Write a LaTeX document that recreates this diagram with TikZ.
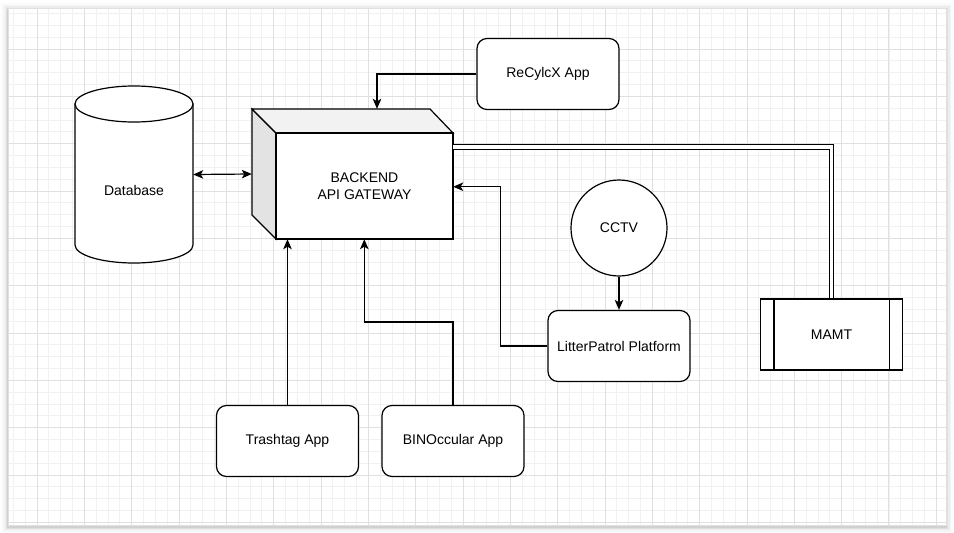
\documentclass[tikz,border=0pt]{standalone}
\usepackage{fontspec}
\setmainfont{Liberation Sans}
\usetikzlibrary{arrows.meta,calc}
\definecolor{minorg}{HTML}{F1F1F1}
\definecolor{majorg}{HTML}{E0E0E0}
\definecolor{topface}{HTML}{F2F2F2}
\definecolor{sideface}{HTML}{E3E3E3}
\begin{document}
\begin{tikzpicture}[x=1pt,y=-1pt,
  lbl/.style={font=\fontsize{14}{17}\selectfont, align=center},
  box/.style={lbl, draw, line width=1.2pt, fill=white, rounded corners=10pt,
    minimum width=142pt, minimum height=71pt, inner sep=0pt},
  procbox/.style={lbl, draw, line width=1.2pt, fill=white,
    minimum width=142pt, minimum height=71pt, inner sep=0pt},
  conn/.style={line width=1.2pt},
  arr/.style={conn, -{Stealth[length=10pt,width=8.5pt,inset=2.5pt]}},
  arrboth/.style={conn, {Stealth[length=10pt,width=8.5pt,inset=2.5pt]}-{Stealth[length=10pt,width=8.5pt,inset=2.5pt]}},
  dbl/.style={double, double distance=3.2pt, line width=1pt},
  face/.style={draw, line width=1.2pt, line join=miter}
]
\useasboundingbox (0,0) rectangle (954,533);
% shadow and canvas
\foreach \d/\o in {7/0.015,5/0.025,3.5/0.035,2/0.05,1/0.07}
  \fill[black, opacity=\o] (8-\d,8-\d+1.5) rectangle (946+\d,525+\d+1.5);
\fill[white] (8,8) rectangle (946,525);
\begin{scope}
\clip (8,8) rectangle (946,525);
\foreach \i in {0,...,81} {
  \draw[minorg, line width=0.9pt] ({-10.33+\i*11.833},0) -- ({-10.33+\i*11.833},533);
}
\foreach \i in {0,...,46} {
  \draw[minorg, line width=0.9pt] (0,{1.67+\i*11.833}) -- (954,{1.67+\i*11.833});
}
\foreach \i in {0,...,21} {
  \draw[majorg, line width=0.9pt] ({-10.33+\i*47.33},0) -- ({-10.33+\i*47.33},533);
}
\foreach \i in {0,...,12} {
  \draw[majorg, line width=0.9pt] (0,{1.67+\i*47.33}) -- (954,{1.67+\i*47.33});
}
\end{scope}
\draw[black!12, line width=0.6pt] (8,8) rectangle (946,525);

% Database cylinder
\node[inner sep=0pt, minimum width=118pt, minimum height=177pt] (db) at (134,174.5) {};
\draw[face, fill=white] (75,104) -- (75,245) arc[start angle=180, end angle=0, x radius=59, y radius=18] -- (193,104) -- cycle;
\draw[face, fill=white] (134,104) ellipse [x radius=59, y radius=18];
\node[lbl] (dblabel) at (134,190) {Database};

% Backend cube
\node[inner sep=0pt, minimum width=201pt, minimum height=130pt] (be) at (352.5,174) {};
\draw[face, fill=sideface] (252,109) -- (276,133) -- (276,239) -- (252,215) -- cycle;
\draw[face, fill=topface] (252,109) -- (430,109) -- (453,133) -- (276,133) -- cycle;
\draw[face, fill=white] (276,133) rectangle (453,239);
\node[lbl] (belabel) at (364.5,186) {BACKEND\\API GATEWAY};

% Other nodes
\node[box] (rc) at (548,74) {ReCylcX App};
\node[draw, circle, line width=1.2pt, fill=white, minimum size=96pt, inner sep=0pt, lbl] (cc) at (619,228) {CCTV};
\node[box] (lp) at (619,346) {LitterPatrol Platform};
\node[procbox] (mm) at (831.5,334.5) {MAMT};
\draw[line width=1.2pt] ([xshift=14pt]mm.north west) -- ([xshift=14pt]mm.south west);
\draw[line width=1.2pt] ([xshift=-14pt]mm.north east) -- ([xshift=-14pt]mm.south east);
\node[box] (tt) at (287.5,441) {Trashtag App};
\node[box] (bo) at (453,441) {BINOccular App};

% Connectors
\draw[arrboth] (db.east) -- (be.west);
\draw[arr] (rc.west) -| ([xshift=24.5pt]be.north);
\draw[arr] (cc.south) -- (lp.north);
\draw[arr] (lp.west) -- ++(-47,0) |- ([yshift=-12.7pt]be.east);
\draw[arr] (tt.north) -- (tt.north |- be.south);
\draw[arr] (bo.north) -- ++(0,-83) -| ([xshift=11.8pt]be.south);
\draw[dbl] ([yshift=27pt]be.east) -| (mm.north);
\end{tikzpicture}
\end{document}
